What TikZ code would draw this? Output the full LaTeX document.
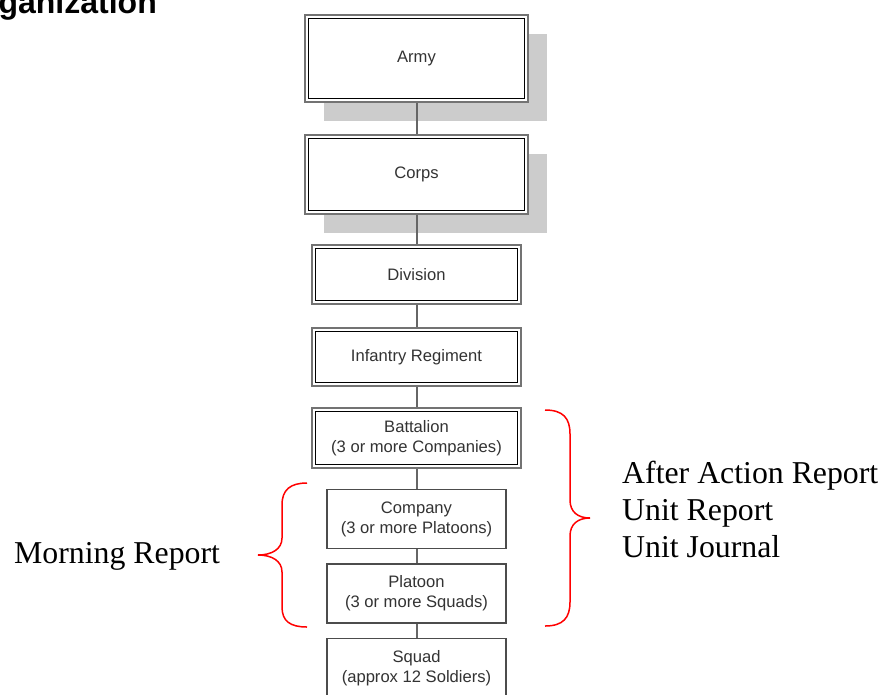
\documentclass[tikz,border=0pt]{standalone}
\usepackage{fontspec}
\setmainfont{Liberation Serif}
\newfontfamily\unitfont{Liberation Sans}
\usepackage{tikz}
\usetikzlibrary{positioning}
\usetikzlibrary{shadows}

\tikzset{
    unit/.style={draw=black!70,line width=1.3pt,fill=white,text=black!80,
        align=center,inner sep=0pt,
        font=\unitfont\fontsize{16.6}{20}\selectfont,
        minimum width=179pt,minimum height=59pt},
    dblunit/.style={unit,draw=black!55,line width=2pt,
        minimum width=209pt,minimum height=59pt,
        path picture={\draw[black,line width=1pt]
            ([shift={(3.5pt,-3.5pt)}]path picture bounding box.north west) rectangle
            ([shift={(-3.5pt,3.5pt)}]path picture bounding box.south east);}},
    shadowed/.style={drop shadow={shadow xshift=19pt,shadow yshift=-19pt,
        fill=black!20,opacity=1}},
    link/.style={draw=black!60,line width=2pt},
    brace/.style={draw=red,line width=1.5pt},
    report/.style={inner sep=0pt,align=left,font=\fontsize{31.8}{36.8}\selectfont},
}

\begin{document}
\begin{tikzpicture}[x=1pt,y=-1pt]
    \useasboundingbox (0,0) rectangle (882,694);
    \clip (0,0) rectangle (882,694);

    \node[anchor=base east,inner sep=0pt,
        font=\unitfont\fontsize{32}{38}\selectfont\bfseries] (title) at (157,13) {ganization};

    % chain of command
    \node[dblunit,shadowed,minimum width=223pt,minimum height=87pt] (army) at (416.5,58.5) {Army};
    \node[dblunit,shadowed,minimum width=223pt,minimum height=79pt,below=31pt of army] (corps) {Corps};
    \node[dblunit,below=29pt of corps] (division) {Division};
    \node[dblunit,minimum height=58pt,below=22pt of division] (regiment) {Infantry Regiment};
    \node[dblunit,minimum height=60pt,below=20pt of regiment] (battalion) {Battalion\\(3 or more Companies)};
    \node[unit,below=20pt of battalion] (company) {Company\\(3 or more Platoons)};
    \node[unit,below=14pt of company] (platoon) {Platoon\\(3 or more Squads)};
    \node[unit,below=14pt of platoon] (squad) {Squad\\(approx 12 Soldiers)};

    \foreach \a/\b in {army/corps,corps/division,division/regiment,regiment/battalion,
        battalion/company,company/platoon,platoon/squad}{%
        \draw[link] (\a) -- (\b);
    }

    % braces
    \draw[brace] (545,410) .. controls (563,410) and (570,418) .. (570,434)
        -- (570,500) .. controls (570,512) and (578,518) .. (590,518)
        .. controls (578,518) and (570,524) .. (570,536)
        -- (570,602) .. controls (570,618) and (563,626) .. (545,626);
    \draw[brace] (307,483) .. controls (290,483) and (282,490) .. (282,505)
        -- (282,538) .. controls (282,549) and (272,555) .. (258,555)
        .. controls (272,555) and (282,561) .. (282,572)
        -- (282,607) .. controls (282,621) and (290,627) .. (307,627);

    \node[report,anchor=base west] (morning) at (14,563) {Morning Report};
    \node[report,anchor=base west] (action) at (622,557) {After Action Report\\Unit Report\\Unit Journal};
\end{tikzpicture}
\end{document}
